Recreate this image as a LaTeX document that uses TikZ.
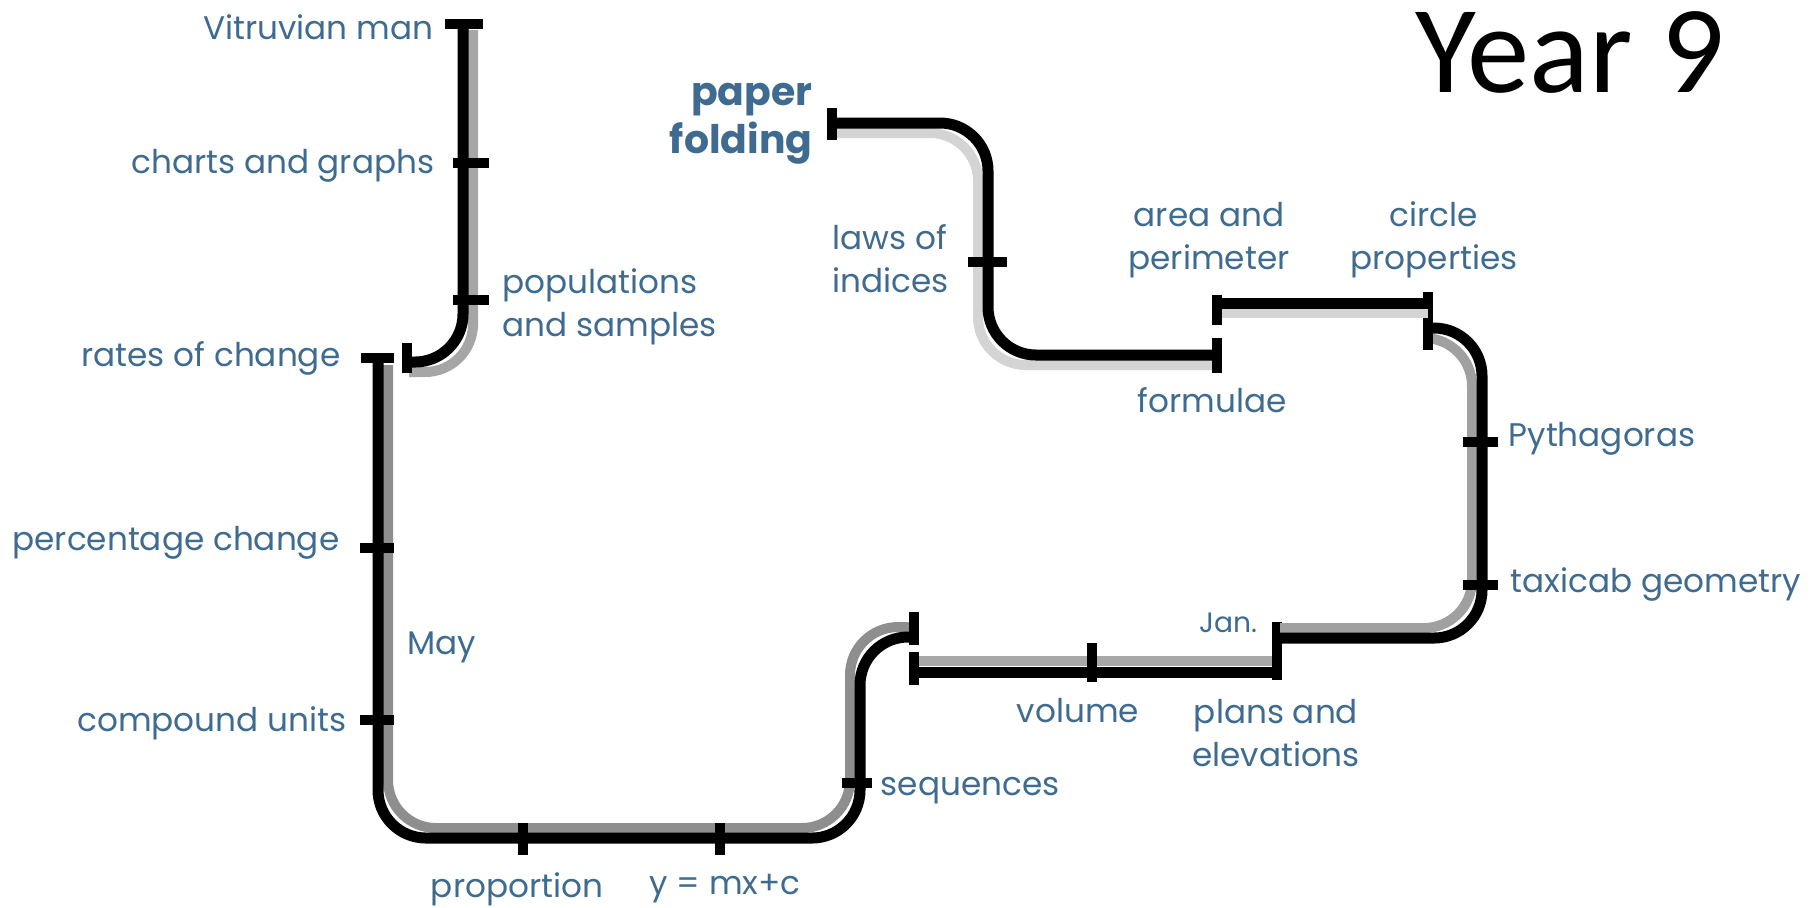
\documentclass[tikz,border=0pt]{standalone}
\usepackage{fontspec}
\setmainfont{Poppins}
\newfontfamily\yearfont{Carlito}

\definecolor{labelblue}{HTML}{3E6B8F}
\definecolor{shadeA}{HTML}{A6A6A6}
\definecolor{shadeB}{HTML}{8E8E8E}
\definecolor{shadeC}{HTML}{A8A8A8}
\definecolor{shadeD}{HTML}{A0A0A0}
\definecolor{shadeE}{HTML}{D4D4D4}

\tikzset{
    pipe/.style={line width=1.1mm, black, rounded corners=4.8mm},
    pipeshade/.style={line width=1mm, rounded corners=4.8mm},
    bar/.style={line width=1mm, black},
    lbl/.style={text=labelblue, inner sep=0pt, font=\fontsize{9.3}{12.2}\selectfont},
    biglbl/.style={text=labelblue, inner sep=0pt, font=\fontsize{11.2}{13.8}\selectfont\bfseries},
}

\begin{document}
\begin{tikzpicture}[x=0.1mm, y=-0.1mm]
        \useasboundingbox (0,0) rectangle (1812,907);

        %Vitruvian pipe
        \begin{scope}[local bounding box=VITRUVIAN]
            \coordinate (vTop) at (463,24);
            \coordinate (vBend) at (463,362);
            \coordinate (vEnd) at (407,362);
            \draw[pipeshade, shadeA] (473,30) -- (473,372) -- (409,372);
            \draw[pipe] (vTop) -- (vBend) -- (vEnd);
            \draw[bar] (445,24) -- (483,24);
            \draw[bar] (407,343) -- (407,373);
            \foreach \y in {163,300}
                \draw[bar] (453,\y) -- (489,\y);
        \end{scope}

        %Rates pipe
        \begin{scope}[local bounding box=RATES]
            \coordinate (rTop) at (378,358);
            \coordinate (rLow) at (378,838);
            \coordinate (sLow) at (860,838);
            \coordinate (sTop) at (860,637);
            \coordinate (sEnd) at (913,637);
            \draw[pipeshade, shadeB] (388,365) -- (388,828) -- (850,828) -- (850,627) -- (911,627);
            \draw[pipe] (rTop) -- (rLow) -- (sLow) -- (sTop) -- (sEnd);
            \draw[bar] (361,358) -- (394,358);
            \foreach \y in {548,720}
                \draw[bar] (360,\y) -- (394,\y);
            \foreach \x in {523,720}
                \draw[bar] (\x,823) -- (\x,855);
            \draw[bar] (842,783) -- (872,783);
            \draw[bar] (914,612) -- (914,645);
        \end{scope}

        %Volume pipe
        \begin{scope}[local bounding box=VOLUME]
            \coordinate (volL) at (914,672);
            \coordinate (volR) at (1277,672);
            \draw[pipeshade, shadeC] (914,661) -- (1277,661);
            \draw[pipe] (volL) -- (volR);
            \draw[bar] (914,652) -- (914,685);
            \draw[bar] (1092,643) -- (1092,682);
            \draw[bar] (1277,622) -- (1277,680);
        \end{scope}

        %Pythagoras pipe
        \begin{scope}[local bounding box=PYTHAGORAS]
            \coordinate (pLow) at (1277,638);
            \coordinate (pCorner) at (1482,638);
            \coordinate (pUp) at (1482,328);
            \coordinate (pEnd) at (1428,328);
            \draw[pipeshade, shadeD] (1280,628) -- (1472,628) -- (1472,338) -- (1430,338);
            \draw[pipe] (pLow) -- (pCorner) -- (pUp) -- (pEnd);
            \foreach \y in {442,585}
                \draw[bar] (1463,\y) -- (1498,\y);
            \draw[bar] (1428,292) -- (1428,350);
        \end{scope}

        %Area pipe
        \begin{scope}[local bounding box=AREA]
            \coordinate (aL) at (1217,303);
            \coordinate (aR) at (1428,303);
            \draw[pipeshade, shadeE] (1217,313) -- (1428,313);
            \draw[pipe] (aL) -- (aR);
            \draw[bar] (1217,295) -- (1217,325);
        \end{scope}

        %Paper folding pipe
        \begin{scope}[local bounding box=FOLDING]
            \coordinate (fStart) at (832,123);
            \coordinate (fTop) at (988,123);
            \coordinate (fLow) at (988,355);
            \coordinate (fEnd) at (1217,355);
            \draw[pipeshade, shadeE] (834,133) -- (978,133) -- (978,365) -- (1217,365);
            \draw[pipe] (fStart) -- (fTop) -- (fLow) -- (fEnd);
            \draw[bar] (832,108) -- (832,140);
            \draw[bar] (968,262) -- (1007,262);
            \draw[bar] (1217,338) -- (1217,373);
        \end{scope}

        %Labels
        \node[lbl, anchor=east] (vitruvian) at (434,27) {Vitruvian man};
        \node[lbl, anchor=east] (charts) at (435,166) {charts and graphs};
        \node[lbl, anchor=west, align=left] (populations) at (502,307) {populations\\and samples};
        \node[lbl, anchor=east] (rates) at (341,358) {rates of change};
        \node[lbl, anchor=east] (percentage) at (340,543) {percentage change};
        \node[lbl, anchor=west] (may) at (407,647) {May};
        \node[lbl, anchor=east] (compound) at (347,723) {compound units};
        \node[lbl] (proportion) at (517,889) {proportion};
        \node[lbl] (linear) at (725,889) {y = mx+c};
        \node[lbl, anchor=west] (sequences) at (880,791) {sequences};
        \node[lbl] (volume) at (1078,711) {volume};
        \node[lbl, align=center] (plans) at (1276,733) {plans and\\elevations};
        \node[lbl, font=\fontsize{8}{10}\selectfont] (jan) at (1228,623) {Jan.};
        \node[lbl, anchor=west] (taxicab) at (1510,584) {taxicab geometry};
        \node[lbl, anchor=west] (pythagoras) at (1508,439) {Pythagoras};
        \node[lbl, align=center] (circle) at (1434,240) {circle\\properties};
        \node[lbl, align=center] (area) at (1209,240) {area and\\perimeter};
        \node[lbl] (formulae) at (1212,400) {formulae};
        \node[lbl, anchor=west, align=left] (indices) at (832,259) {laws of\\indices};
        \node[biglbl, anchor=east, align=right] (paper) at (813,124) {paper\\folding};

        \node[inner sep=0pt, font=\fontsize{35.5}{40}\yearfont] (year) at (1570,52) {Year 9};
    \end{tikzpicture}
\end{document}
